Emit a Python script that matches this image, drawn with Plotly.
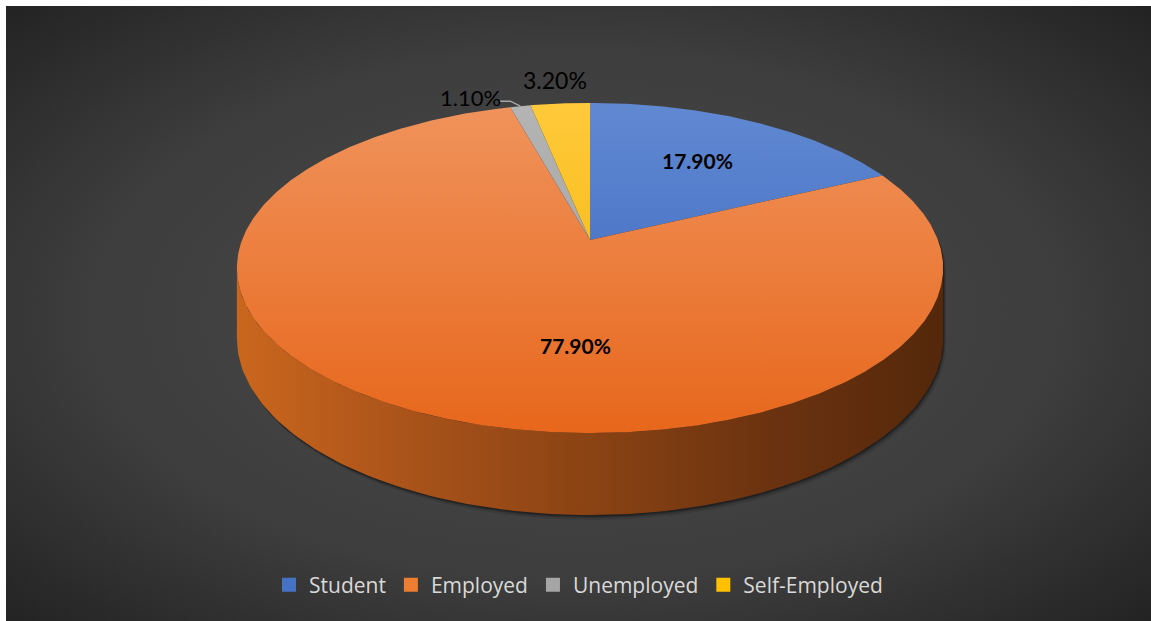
import math
import plotly.graph_objects as go

# Employment status shares (percent)
categories = ["Student", "Employed", "Unemployed", "Self-Employed"]
shares = [17.9, 77.9, 1.1, 3.2]

# Colours: (far-edge tint, near-edge tint) for each slice's top face
top_colors = [("#6189d2", "#3562bb"), ("#f0935c", "#e7671c"),
              ("#b4b4b4", "#9c9c9c"), ("#ffc93a", "#f0b400")]
legend_colors = ["#4472c4", "#ed7d31", "#a5a5a5", "#ffc000"]

W, H = 1151, 621
CX, CY = 590.0, 240.0      # apex of the pie on screen
A, B = 348.0, 160.3        # horizontal / depth half-axes of the top disc
K = 0.1697                 # perspective strength
D = 68.0                   # thickness of the pie


def proj(theta, r=1.0, depth=0.0):
    """Screen point of a pie point: theta clockwise from 12 o'clock (deg)."""
    t = math.radians(theta)
    u, v = r * math.sin(t), r * math.cos(t)
    s = 1.0 / (1.0 + K * v)
    return CX + A * u * s, CY - B * v * s + D * depth * s


def arc(t0, t1, depth=0.0, n=120):
    pts = [proj(t0 + (t1 - t0) * i / n, 1.0, depth) for i in range(n + 1)]
    return [p[0] for p in pts], [p[1] for p in pts]


total = sum(shares)
bounds = [0.0]
for v in shares:
    bounds.append(bounds[-1] + 360.0 * v / total)

fig = go.Figure()

# Background panel with a soft radial vignette
bx0, bx1, by0, by1 = -240, 1390, -130, 760
fig.add_trace(go.Scatter(
    x=[bx0, bx1, bx1, bx0, bx0], y=[by0, by0, by1, by1, by0],
    mode="lines", line=dict(width=0), fill="toself",
    fillgradient=dict(type="radial",
                      colorscale=[[0, "#4c4c4c"], [0.6, "#3d3d3d"], [1, "#222222"]]),
    hoverinfo="skip", showlegend=False))

# Side wall visible range (silhouette where the rim turns away)
ta = math.degrees(math.acos(-K))
tb = 360.0 - ta

# Drop shadow under the silhouette
for off, alpha in [(5, 0.10), (3, 0.18), (1.5, 0.30)]:
    sx1, sy1 = arc(-ta, ta, 0.0)
    sx2, sy2 = arc(ta, tb, 1.0)
    sx = [x + off * 0.6 for x in sx1 + sx2]
    sy = [y + off for y in sy1 + sy2]
    fig.add_trace(go.Scatter(
        x=sx + [sx[0]], y=sy + [sy[0]], mode="lines", line=dict(width=0),
        fill="toself", fillcolor=f"rgba(0,0,0,{alpha})",
        hoverinfo="skip", showlegend=False))

# Side wall of the Employed slice (only slice whose rim faces the viewer)
tx, ty = arc(ta, tb, 0.0)
bxs, bys = arc(tb, ta, 1.0)
fig.add_trace(go.Scatter(
    x=tx + bxs + [tx[0]], y=ty + bys + [ty[0]], mode="lines", line=dict(width=0),
    fill="toself",
    fillgradient=dict(type="horizontal", start=CX - A, stop=CX + A,
                      colorscale=[[0, "#c9661d"], [0.25, "#a8521a"], [0.5, "#8a4313"],
                                  [0.75, "#6c3310"], [1, "#55280b"]]),
    hoverinfo="skip", showlegend=False))

# Top faces of the slices
top_y0 = CY - B / (1 + K)
top_y1 = CY + B / (1 - K)
for i, name in enumerate(categories):
    ax, ay = arc(bounds[i], bounds[i + 1], 0.0, n=max(8, int(bounds[i + 1] - bounds[i]) * 2))
    c_far, c_near = top_colors[i]
    fig.add_trace(go.Scatter(
        x=[CX] + ax + [CX], y=[CY] + ay + [CY], mode="lines", line=dict(width=0),
        fill="toself",
        fillgradient=dict(type="vertical", start=top_y0, stop=top_y1,
                          colorscale=[[0, c_far], [1, c_near]]),
        hoverinfo="skip", showlegend=False))

# Legend entries
for name, col in zip(categories, legend_colors):
    fig.add_trace(go.Scatter(
        x=[None], y=[None], mode="markers", name=name,
        marker=dict(symbol="square", size=14, color=col)))

# Data labels
label_xy = [(697, 160), (575, 345), (470, 97), (555, 80)]
label_bold = [True, True, False, False]
label_size = [21, 21, 22, 23]
for v, (lx, ly), bold, fs in zip(shares, label_xy, label_bold, label_size):
    fig.add_annotation(
        x=lx, y=ly, text=f"<b>{v:.2f}%</b>" if bold else f"{v:.2f}%",
        showarrow=False, font=dict(family="Lato", size=fs, color="#000000"))

# Leader line for the small Unemployed slice
mid_u = (bounds[2] + bounds[3]) / 2
ex, ey = proj(mid_u, 1.0)
fig.add_trace(go.Scatter(
    x=[500, ex - 10, ex], y=[ey - 5, ey - 5, ey], mode="lines",
    line=dict(color="#a6a6a6", width=1.5), hoverinfo="skip", showlegend=False))

fig.update_layout(
    width=W, height=H,
    margin=dict(l=6, t=6, r=0, b=0),
    paper_bgcolor="#ffffff", plot_bgcolor="#333333",
    xaxis=dict(range=[6, W], visible=False, fixedrange=True),
    yaxis=dict(range=[H, 6], visible=False, fixedrange=True),
    showlegend=True,
    legend=dict(orientation="h", x=0.5, xanchor="center", y=(H - 585) / (H - 6),
                yanchor="middle", bgcolor="rgba(0,0,0,0)",
                font=dict(family="Open Sans", size=21, color="#d9d9d9"),
                itemwidth=30, tracegroupgap=0),
)

fig.write_html("out.html")
